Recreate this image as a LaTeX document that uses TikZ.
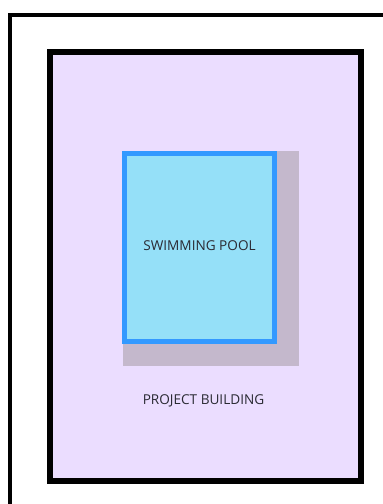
\documentclass[tikz,border=0pt]{standalone}
\usepackage{fontspec}
\setmainfont{Open Sans}
\definecolor{plotfill}{HTML}{EBDDFF}
\definecolor{poolfill}{HTML}{95E0F8}
\definecolor{poolline}{HTML}{3399FF}
\definecolor{shadowgray}{HTML}{C4B8CC}
\definecolor{labelink}{HTML}{2A2A33}
\tikzset{
  frame/.style={draw=black, line width=4pt},
  building/.style={draw=black, line width=6pt, fill=plotfill},
  pool/.style={draw=poolline, line width=5pt, fill=poolfill},
  poolshadow/.style={fill=shadowgray},
  label/.style={text=labelink, font=\fontsize{13.6}{15}\selectfont, inner sep=0pt}
}
\begin{document}
\begin{tikzpicture}[x=1pt, y=-1pt]
  \useasboundingbox (0,0) rectangle (383,504);
  \fill[white] (0,0) rectangle (383,504);
  % site boundary, open at the right and bottom
  \draw[frame] (10,506) -- (10,15) -- (385,15);
  % building footprint
  \draw[building] (49.5,52) rectangle (360.5,481);
  % pool with its shadow
  \fill[poolshadow] (123,151) rectangle (299,366);
  \draw[pool] (124.5,153.5) rectangle (274,341);
  \node[label] (poollabel) at (199.5,246) {SWIMMING POOL};
  \node[label] (buildinglabel) at (203.5,400.5) {PROJECT BUILDING};
\end{tikzpicture}
\end{document}
